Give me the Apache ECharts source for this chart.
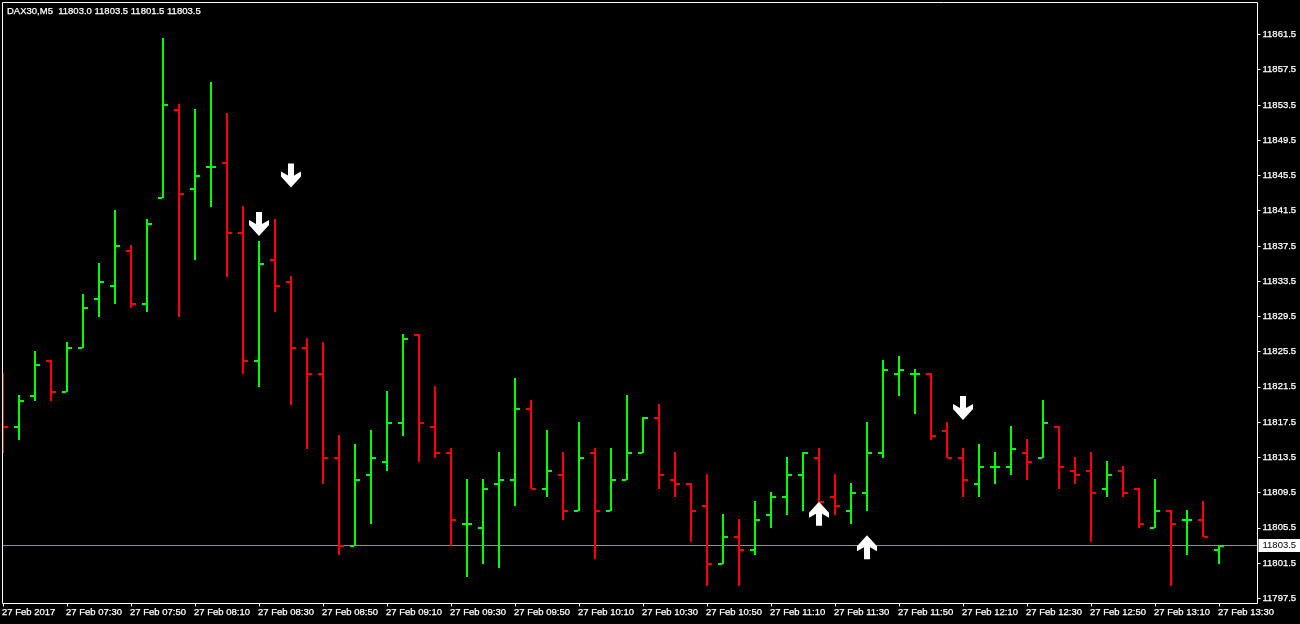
<!DOCTYPE html>
<html>
<head>
<meta charset="utf-8">
<title>DAX30,M5</title>
<script src="https://cdn.jsdelivr.net/npm/echarts@6/dist/echarts.min.js"></script>
<style>
  html, body { margin: 0; padding: 0; background: #000; }
  #main { width: 1300px; height: 624px; }
</style>
</head>
<body>
<div id="main"></div>
<script>
const opens = [11817.5,11817,11820.5,11824.5,11821,11826,11831.5,11833,11837,11831,11843,11853,11844,11846.5,11847,11839,11824.5,11836,11833.5,11826,
  11823,11813.5,11803.5,11811.5,11813,11817.5,11827.5,11817,11814,11806,11805.5,11810.5,11811,11819,11810,11811.5,11807.5,11814,11807.5,11811,
  11814,11818,11811,11810.5,11808,11801.5,11804.5,11803,11807,11809,11811.5,11813.5,11809,11807.5,11809.5,11814,11823,11823,11823,11816.5,
  11813.5,11810.5,11812.5,11812.5,11814,11813.5,11817,11812,11812,11810,11812,11810,11805.5,11807.5,11806.5,11806.5,11803];
const highs = [11823,11820.5,11825.5,11824.5,11826.5,11832,11835.5,11841.5,11837.5,11840.5,11861,11853.5,11853,11856,11852.5,11842,11838,11840.5,11834,11827,
  11826.5,11816,11815,11816.5,11821,11827.5,11827.5,11821.5,11814.5,11811,11811,11814,11822.5,11820,11816.5,11814,11817.5,11814.5,11814.5,11820.5,
  11818,11819.5,11814,11810.5,11811.5,11807,11806.5,11808.5,11809.5,11813.5,11814,11814.5,11811.5,11810.5,11817.5,11824.5,11825,11823.5,11823,11817.5,
  11814.5,11815,11814,11817,11815.5,11820,11817,11813.5,11814,11813,11812.5,11810,11811,11807.5,11807.5,11808.5,11803.5];
const lows = [11814,11815.5,11820,11820,11821,11826,11829.5,11831,11830.5,11830,11843,11829.5,11836,11842,11834,11823,11821.5,11830,11819.5,11814.5,
  11810.5,11802.5,11803.5,11806,11812,11816,11813,11813.5,11803.5,11800,11801.5,11801,11808,11810,11809,11806.5,11807.5,11802,11807.5,11811,
  11814,11810,11809,11804,11799,11801.5,11799,11802.5,11805.5,11807,11807.5,11808.5,11807,11806,11807.5,11813.5,11820.5,11818.5,11815.5,11813.5,
  11809,11809,11810.5,11811.5,11811,11813.5,11810,11810.5,11804,11809,11809,11805.5,11805.5,11799,11802.5,11804.5,11801.5];
const closes = [11817,11820,11824,11821,11826,11830.5,11833.5,11837.5,11831,11840,11853.5,11843.5,11845.5,11846.5,11839,11824.5,11835.5,11833,11826,11823,
  11813.5,11803.5,11811,11813.5,11817.5,11827,11817.5,11814,11806.5,11806,11810,11811,11819,11810,11812,11807.5,11813.5,11807.5,11811,11814,
  11818,11811.5,11810.5,11807.5,11801.5,11804.5,11803,11806.5,11809,11811.5,11814,11808.5,11808,11809.5,11814,11823.5,11823.5,11823,11816,11813.5,
  11811,11812.5,11812.5,11814.5,11813,11817.5,11812.5,11811.5,11809.5,11811.5,11809.5,11806,11807.5,11806,11806.5,11804.5,11803.5];

const timeTicks = [0,4,8,12,16,20,24,28,32,36,40,44,48,52,56,60,64,68,72,76];
const timeLabels = ['27 Feb 2017','27 Feb 07:30','27 Feb 07:50','27 Feb 08:10','27 Feb 08:30','27 Feb 08:50','27 Feb 09:10','27 Feb 09:30','27 Feb 09:50','27 Feb 10:10',
  '27 Feb 10:30','27 Feb 10:50','27 Feb 11:10','27 Feb 11:30','27 Feb 11:50','27 Feb 12:10','27 Feb 12:30','27 Feb 12:50','27 Feb 13:10','27 Feb 13:30'];
const priceTicks = [11861.5,11857.5,11853.5,11849.5,11845.5,11841.5,11837.5,11833.5,11829.5,11825.5,11821.5,11817.5,11813.5,11809.5,11805.5,11801.5,11797.5];

const downBars = [16,18,60];
const downPrices = [11840,11845.5,11819.1];
const upBars = [51,54];
const upPrices = [11807.1,11803.3];

const symbolName = 'DAX30,M5';
const lastPrice = 11803.5;
const GREEN = '#00ff00', RED = '#ff0000';
const FONT = '"Liberation Sans", Arial, sans-serif';

const ARROW_DOWN = 'path://M7 0H13V12L20 8V13L10 24L0 13V8L7 12Z';
const ARROW_UP = 'path://M7 24H13V12L20 16V11L10 0L0 11V16L7 12Z';

function renderBar(params, api) {
  const i = api.value(0);
  const x = api.coord([i, api.value(1)])[0];
  const openY = Math.floor(api.coord([i, api.value(1)])[1]);
  const highY = Math.floor(api.coord([i, api.value(2)])[1]);
  const lowY = Math.floor(api.coord([i, api.value(3)])[1]);
  const closeY = Math.floor(api.coord([i, api.value(4)])[1]);
  const color = api.value(4) >= api.value(1) ? GREEN : RED;
  return {
    type: 'group',
    children: [
      { type: 'rect', shape: { x: x - 1, y: highY, width: 2, height: lowY - highY + 1 }, style: { fill: color } },
      { type: 'rect', shape: { x: x - 5, y: openY, width: 4, height: 2 }, style: { fill: color } },
      { type: 'rect', shape: { x: x + 1, y: closeY, width: 4, height: 2 }, style: { fill: color } }
    ]
  };
}

const chart = echarts.init(document.getElementById('main'));
chart.setOption({
  animation: false,
  backgroundColor: '#000',
  title: {
    text: symbolName + '  ' + [opens[76], highs[76], lows[76], closes[76]].map(v => v.toFixed(1)).join(' '),
    left: 7, top: 6, padding: 0,
    textStyle: { color: '#fff', fontSize: 9.5, fontWeight: 'normal', fontFamily: FONT, textBorderColor: '#fff', textBorderWidth: 0.25 }
  },
  grid: {
    show: true, z: 5, left: 2.5, top: 2.5, width: 1255, height: 601, outerBoundsMode: 'none',
    borderColor: '#fff', borderWidth: 1, backgroundColor: 'transparent'
  },
  xAxis: {
    type: 'value', min: -0.03125, max: 78.40625, splitLine: { show: false },
    axisLine: { show: false, onZero: false },
    axisTick: { show: true, length: 3, customValues: timeTicks, lineStyle: { color: '#fff' } },
    axisLabel: {
      customValues: timeTicks, color: '#fff', fontSize: 9.5, fontFamily: FONT, align: 'left', margin: 4,
      textBorderColor: '#fff', textBorderWidth: 0.25,
      padding: [0, 0, 0, -1], hideOverlap: false, formatter: v => timeLabels[timeTicks.indexOf(v)]
    }
  },
  yAxis: {
    type: 'value', position: 'right', min: 11796.91, max: 11865.13, splitLine: { show: false },
    axisLine: { show: false, onZero: false },
    axisTick: { show: true, length: 3, customValues: priceTicks, lineStyle: { color: '#fff' } },
    axisLabel: {
      customValues: priceTicks, color: '#fff', fontSize: 9.5, fontFamily: FONT, margin: 5,
      textBorderColor: '#fff', textBorderWidth: 0.25,
      formatter: v => v.toFixed(1)
    }
  },
  series: [
    {
      type: 'custom', z: 2, clip: true, silent: true,
      renderItem: renderBar,
      encode: { x: 0, y: [1, 2, 3, 4] },
      data: opens.map((o, i) => [i, o, highs[i], lows[i], closes[i]]),
      markLine: {
        silent: true, z: 1, symbol: 'none', animation: false,
        lineStyle: { color: '#8a8f98', width: 1, type: 'solid' },
        label: {
          position: 'end', distance: 1, formatter: lastPrice.toFixed(1), color: '#000',
          backgroundColor: '#fff', padding: [2, 4, 1, 4], fontSize: 9.5, fontFamily: FONT
        },
        data: [{ yAxis: lastPrice }]
      }
    },
    {
      type: 'scatter', z: 4, silent: true, symbol: ARROW_DOWN, symbolSize: [20, 24],
      itemStyle: { color: '#fff', opacity: 1 },
      data: downBars.map((b, i) => [b, downPrices[i]])
    },
    {
      type: 'scatter', z: 4, silent: true, symbol: ARROW_UP, symbolSize: [20, 24],
      itemStyle: { color: '#fff', opacity: 1 },
      data: upBars.map((b, i) => [b, upPrices[i]])
    }
  ]
});
</script>
</body>
</html>
